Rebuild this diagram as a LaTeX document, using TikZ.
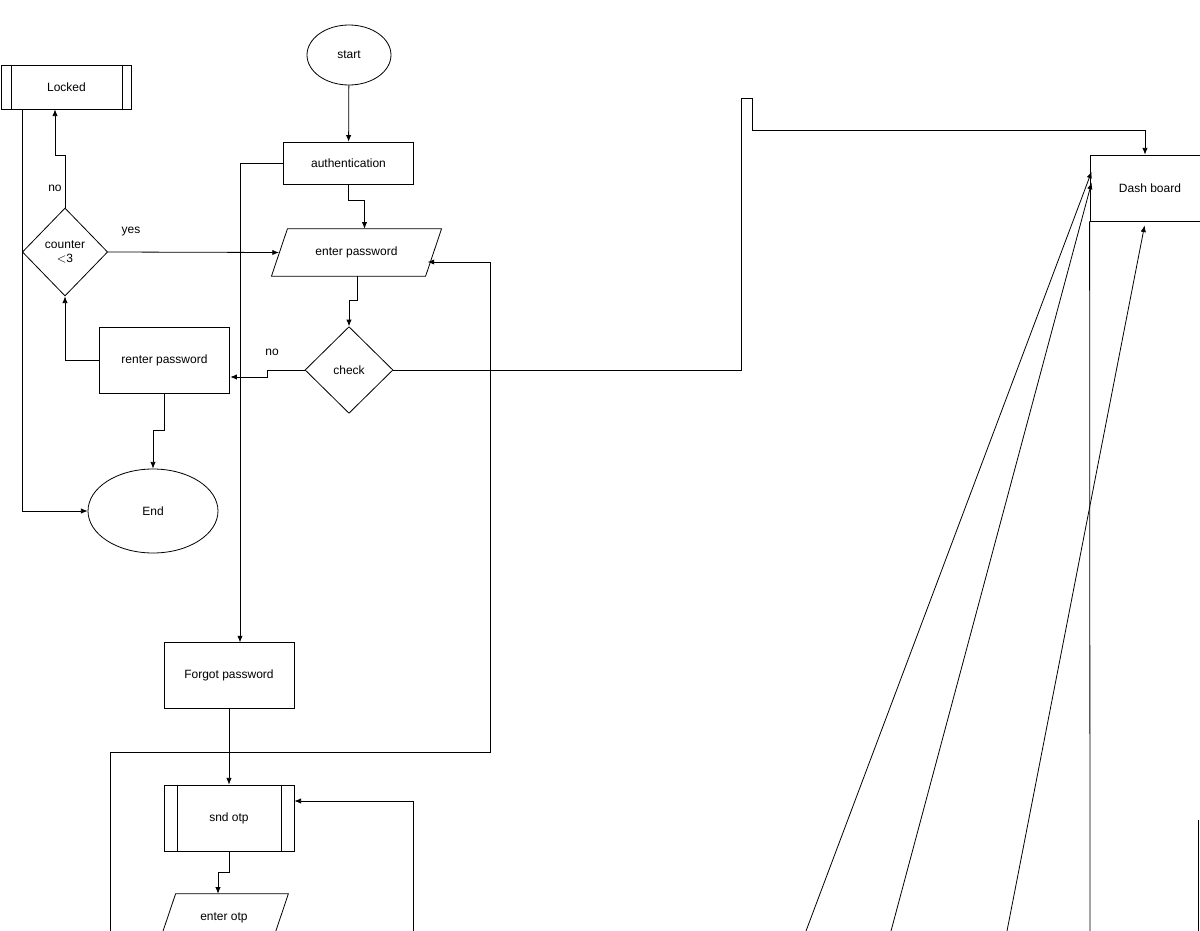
\documentclass[tikz,border=0pt]{standalone}
\usepackage{fontspec}
\setmainfont{Liberation Sans}
\usetikzlibrary{arrows.meta, positioning, calc, shapes.geometric}
\tikzstyle{arrow} = [->,>={Latex[length=5pt,width=4pt]}]

\begin{document}
\begin{tikzpicture}[x=0.75pt, y=-0.75pt, font=\fontsize{9}{10}\selectfont, line width=0.6pt]
        \tikzstyle{proc}=[
            rectangle,
            draw,
            inner sep=0pt,
            align=center
        ]
        \tikzstyle{term}=[ellipse, draw, inner sep=0pt]
        \tikzstyle{dec}=[diamond, draw, inner sep=0pt, aspect=1, align=center]
        \tikzstyle{io}=[rectangle, inner sep=0pt]

        \useasboundingbox (0,0) rectangle (1200,931);
        \clip (0,0) rectangle (1200,931);

        \node[term, minimum width=63pt, minimum height=45pt] (start) at (349,55) {start};
        \node[proc, minimum width=97.5pt, minimum height=33pt] (locked) at (66.5,87) {Locked};
        \node[proc, minimum width=98pt, minimum height=32pt] (auth) at (348.5,163.5) {authentication};
        \node[io, minimum width=115pt, minimum height=35pt] (pwd) at (356.5,252.5) {enter password};
        \node[dec, minimum width=64pt, minimum height=66pt] (counter) at (65,252) {counter\\$<$3};
        \node[dec, minimum width=66pt, minimum height=65pt] (check) at (349,370) {check};
        \node[proc, minimum width=98pt, minimum height=49.5pt] (renter) at (164.5,360) {renter password};
        \node[term, minimum width=97.5pt, minimum height=63pt] (end) at (153,511) {End};
        \node[proc, minimum width=97.5pt, minimum height=49pt] (forgot) at (229,675.5) {Forgot password};
        \node[proc, minimum width=97.5pt, minimum height=49.5pt] (otp) at (229,818) {snd otp};
        \node[io, minimum width=84pt, minimum height=35pt] (eotp) at (224,917.5) {enter otp};
        \node[proc, minimum width=90pt, minimum height=49.5pt] (dash) at (1150,188) {Dash board};

        % parallelograms and process bars
        \draw ($(pwd.north west)+(8,0)$) -- ($(pwd.north east)+(8,0)$)
            -- ($(pwd.south east)+(-8,0)$) -- ($(pwd.south west)+(-8,0)$) -- cycle;
        \draw ($(eotp.north west)+(8,0)$) -- ($(eotp.north east)+(8,0)$)
            -- ($(eotp.south east)+(-8,0)$) -- ($(eotp.south west)+(-8,0)$) -- cycle;
        \draw ([xshift=7.5pt]locked.north west) -- ([xshift=7.5pt]locked.south west);
        \draw ([xshift=-7.5pt]locked.north east) -- ([xshift=-7.5pt]locked.south east);
        \draw ([xshift=10pt]otp.north west) -- ([xshift=10pt]otp.south west);
        \draw ([xshift=-10pt]otp.north east) -- ([xshift=-10pt]otp.south east);

        \coordinate (a1) at (110,931);
        \coordinate (a2) at (413,931);
        \coordinate (d1) at (806,931);
        \coordinate (d2) at (891,931);
        \coordinate (d3) at (1007,931);
        \coordinate (v1) at (1090,931);
        \coordinate (v2) at (1198,931);

        \draw[arrow] (start) -- (auth);
        \draw[arrow] (auth.south) -- ++(0,15) -| ([xshift=6]pwd.north);
        \draw[arrow] ([xshift=1]pwd.south) -- ++(0,24) -| (check.north);
        \draw[arrow] (check.west) -- (267,370) -- (267,377) -- (renter.east |- 0,377);
        \draw[arrow] (renter.west) -| (counter.south);
        \draw[arrow] (renter.south) -- ++(0,37) -| (end.north);
        \draw[arrow] (counter.north) -- (65,155) -| (locked.south -| 55,0);
        \draw[arrow] (counter.east) -- ($(pwd.west)+(-0.5,0)$);
        \draw[arrow] (locked.south -| 22,0) |- (end.west);
        \draw[arrow] (auth.west) -| (forgot.north -| 240,0);
        \draw[arrow] (forgot.south) -- (otp.north);
        \draw[arrow] (otp.south) -- ++(0,21) -| (eotp.north -| 218,0);
        \draw[arrow] (a1) |- (490,752) |- ($(pwd.east)+(-6,9.5)$);
        \draw[arrow] (a2) |- (otp.east |- 0,801);
        \draw[arrow] (check.east) -| (741,98) -- (752,98) |- (1145,130) -- (dash.north -| 1145,0);
        \draw[arrow] (d1) -- ($(dash.north west)+(2,17)$);
        \draw[arrow] (d2) -- ($(dash.north west)+(2,28)$);
        \draw[arrow] (d3) -- ($(dash.south west)+(55,4)$);
        \draw (v1) -- (dash.south west);
        \draw (v2) -- (1198,820);

        \node at (55,188) {no};
        \node at (131,232) {yes};
        \node at (272,352) {no};
\end{tikzpicture}
\end{document}
